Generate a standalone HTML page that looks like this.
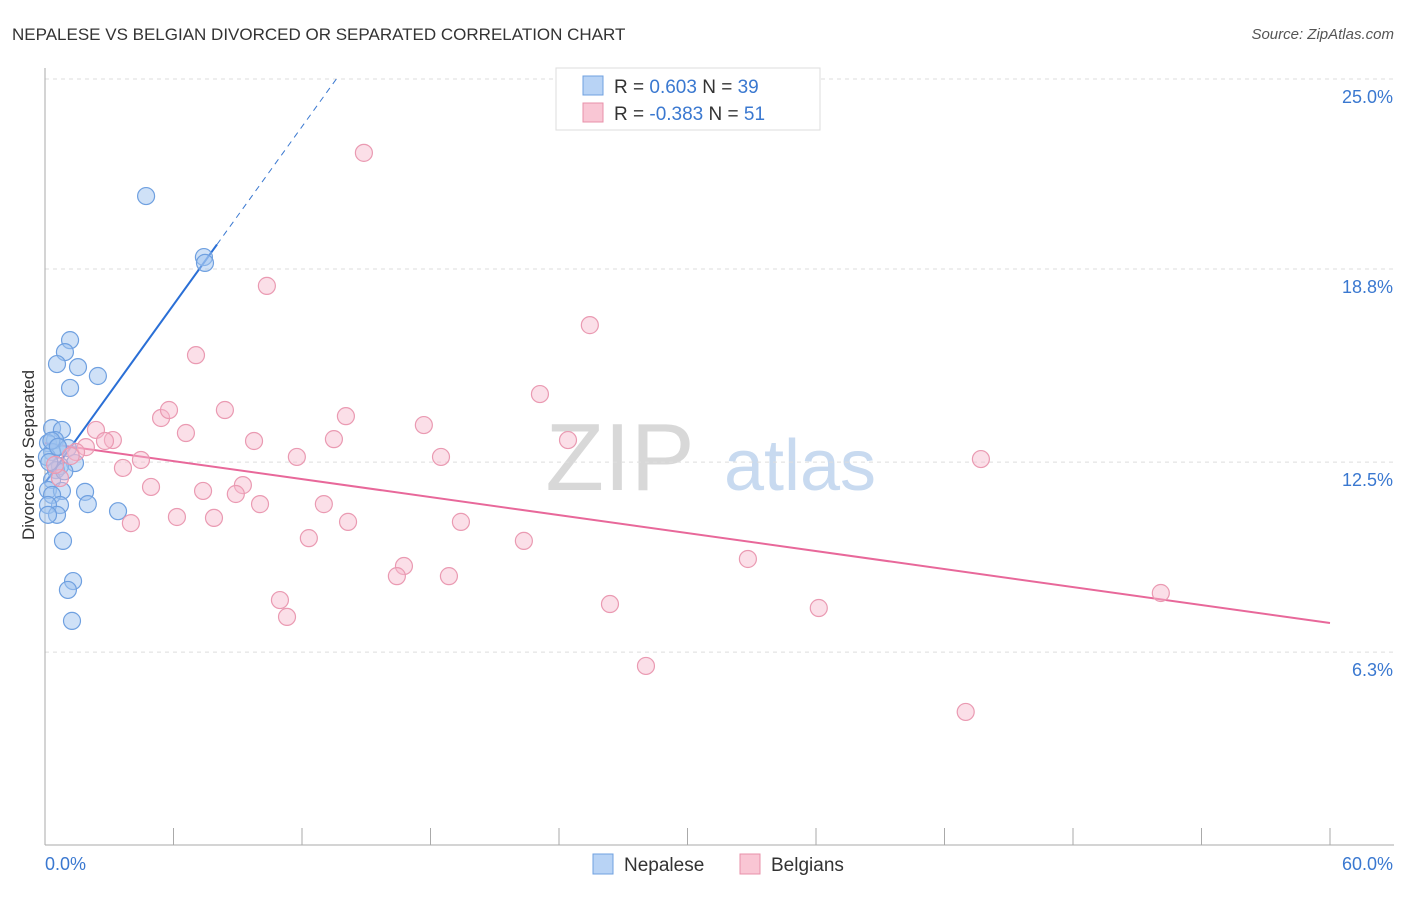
<!DOCTYPE html>
<html><head><meta charset="utf-8"><style>
body{margin:0;background:#fff;font-family:"Liberation Sans",sans-serif}
svg text{font-family:"Liberation Sans",sans-serif}
</style></head><body>
<svg id="chart" width="1406" height="892" xmlns="http://www.w3.org/2000/svg">
<text x="12" y="40" font-size="17" fill="#333">NEPALESE VS BELGIAN DIVORCED OR SEPARATED CORRELATION CHART</text>
<text x="1394" y="39" font-size="15" fill="#555" text-anchor="end" font-style="italic">Source: ZipAtlas.com</text>
<text x="620" y="490" font-size="96" fill="#d8d8d8" font-family="Liberation Serif" text-anchor="middle">ZIP</text>
<text x="800" y="490" font-size="72" fill="#c8daf0" text-anchor="middle">atlas</text>
<g id="grid"></g><g id="axes"></g><g id="lines"></g><g id="pts"></g>
<text transform="translate(34,455) rotate(-90)" font-size="17" fill="#333" text-anchor="middle">Divorced or Separated</text>
<text x="45" y="870" font-size="18" fill="#3a78d0">0.0%</text>
<text x="1393" y="870" font-size="18" fill="#3a78d0" text-anchor="end">60.0%</text>
<g>
<rect x="556" y="68" width="264" height="62" fill="#fff" stroke="#ddd"/>
<rect x="583" y="76" width="20" height="19" fill="#b8d3f5" stroke="#6fa0e0"/>
<text x="614" y="93" font-size="19" fill="#333">R = <tspan fill="#3a78d0">0.603</tspan>   N = <tspan fill="#3a78d0">39</tspan></text>
<rect x="583" y="103" width="20" height="19" fill="#f9c6d4" stroke="#e890aa"/>
<text x="614" y="120" font-size="19" fill="#333">R = <tspan fill="#3a78d0">-0.383</tspan>   N = <tspan fill="#3a78d0">51</tspan></text>
</g>
<g>
<rect x="593" y="854" width="20" height="20" fill="#b8d3f5" stroke="#6fa0e0"/>
<text x="624" y="871" font-size="19" fill="#333">Nepalese</text>
<rect x="740" y="854" width="20" height="20" fill="#f9c6d4" stroke="#e890aa"/>
<text x="771" y="871" font-size="19" fill="#333">Belgians</text>
</g>
</svg>
<script>
const yTicks=[25.0,18.8,12.5,6.3];
const yTickLabels=["25.0%","18.8%","12.5%","6.3%"];
const xTicks=[0,6,12,18,24,30,36,42,48,54,60];
const nepX=[4.72,7.42,7.47,1.17,0.93,0.56,1.54,2.47,1.17,0.33,0.79,0.47,0.14,0.61,1.07,0.33,0.09,1.40,0.70,0.51,0.33,0.14,0.79,1.87,0.33,2.0,0.70,0.14,0.56,0.14,3.41,0.84,1.31,1.07,1.26,0.30,0.60,0.20,0.90];
const nepY=[21.18,19.19,19.0,16.48,16.09,15.70,15.60,15.31,14.92,13.61,13.55,13.22,13.12,12.99,12.96,12.83,12.67,12.47,12.37,12.24,11.92,11.59,11.56,11.53,11.43,11.13,11.1,11.1,10.78,10.78,10.9,9.93,8.62,8.33,7.32,13.2,13.0,12.5,12.2];
const belX=[14.89,10.36,25.44,7.05,23.11,5.42,5.79,8.40,14.05,17.69,6.58,9.76,13.49,24.42,2.38,3.17,2.8,1.91,1.45,4.48,11.76,18.49,43.70,3.64,4.95,7.38,9.24,8.91,10.04,13.02,0.7,0.47,6.16,7.89,4.01,14.15,19.42,12.32,22.36,32.82,16.76,16.43,18.86,10.97,26.38,36.13,11.30,52.1,28.06,42.99,1.2];
const belY=[22.59,18.25,16.97,15.99,14.72,13.94,14.20,14.20,14.0,13.71,13.45,13.19,13.25,13.22,13.55,13.22,13.19,12.99,12.83,12.57,12.67,12.67,12.6,12.31,11.69,11.56,11.75,11.46,11.13,11.13,11.98,12.41,10.71,10.68,10.51,10.55,10.55,10.02,9.93,9.34,9.11,8.78,8.78,8.0,7.87,7.74,7.45,8.23,5.85,4.35,12.7];
const nepFit=[0,11.82,8.03,19.6];
const belFit=[0,13.12,60,7.25];
const NS="http://www.w3.org/2000/svg";
const xs=v=>45+v*1285/60;
const ys=v=>79+(25-v)*30.65;
function mk(t,a,p){const e=document.createElementNS(NS,t);for(const k in a)e.setAttribute(k,a[k]);document.getElementById(p).appendChild(e);return e;}
yTicks.forEach((v,i)=>{
 const l=mk('line',{x1:45,x2:1394,y1:ys(v),y2:ys(v),stroke:'#ddd','stroke-dasharray':'4,4'},'grid');
 
 
 const t=mk('text',{x:1393,y:ys(v)+24,'font-size':18,fill:'#3a78d0','text-anchor':'end'},'axes');
 t.textContent=yTickLabels[i];
 
 
});
mk('line',{x1:45,x2:45,y1:68,y2:845,stroke:'#aaa'},'axes');
mk('line',{x1:45,x2:1394,y1:845,y2:845,stroke:'#aaa'},'axes');
xTicks.forEach(v=>{
 const l=mk('line',{x1:xs(v),x2:xs(v),y1:828,y2:845,stroke:'#aaa'},'axes');
 
 
});
nepX.forEach((x,i)=>{
 const c=mk('circle',{cx:xs(x),cy:ys(nepY[i]),r:8.5,fill:'rgba(160,196,240,0.5)',stroke:'#6fa0e0','stroke-width':1.2},'pts');
 
 
});
belX.forEach((x,i)=>{
 const c=mk('circle',{cx:xs(x),cy:ys(belY[i]),r:8.5,fill:'rgba(247,185,205,0.45)',stroke:'#ea9ab2','stroke-width':1.2},'pts');
 
 
});
const slope=(nepFit[3]-nepFit[1])/(nepFit[2]-nepFit[0]);
const xEnd=nepFit[0]+(25.1-nepFit[1])/slope;
let l=mk('line',{x1:xs(nepFit[2]),y1:ys(nepFit[3]),x2:xs(xEnd),y2:ys(25.1),stroke:'#3a78d0','stroke-width':1,'stroke-dasharray':'6,5'},'lines');


l=mk('line',{x1:xs(nepFit[0]),y1:ys(nepFit[1]),x2:xs(nepFit[2]),y2:ys(nepFit[3]),stroke:'#2a6fd6','stroke-width':2},'lines');


l=mk('line',{x1:xs(belFit[0]),y1:ys(belFit[1]),x2:xs(belFit[2]),y2:ys(belFit[3]),stroke:'#e8689a','stroke-width':2},'lines');


</script>
</body></html>
